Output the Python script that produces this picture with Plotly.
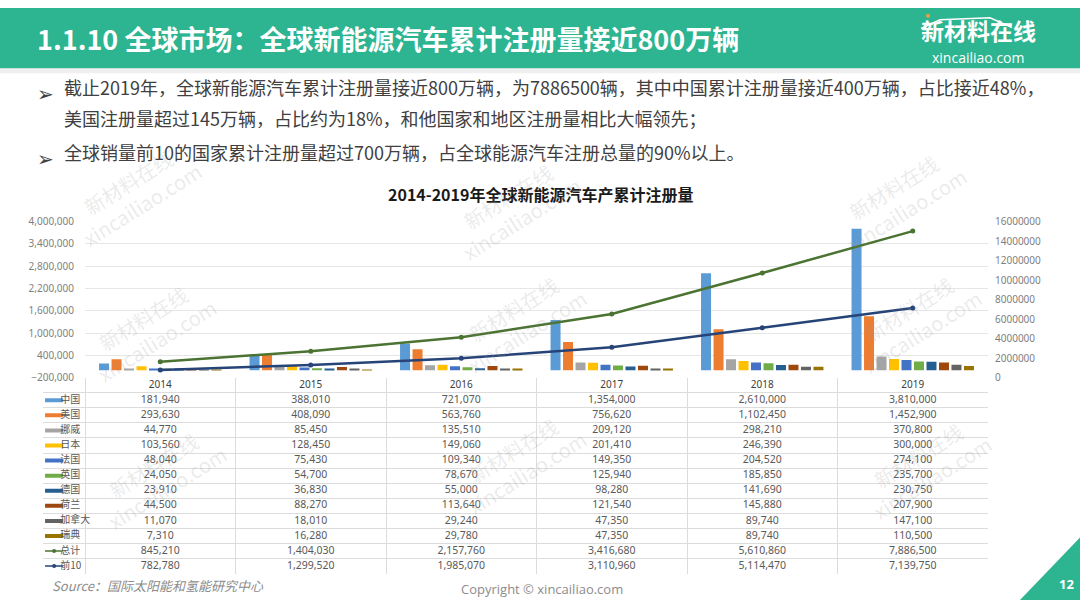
import plotly.graph_objects as go

W, H = 1080, 607

years = ["2014", "2015", "2016", "2017", "2018", "2019"]
countries = ["中国", "美国", "挪威", "日本", "法国", "英国", "德国", "荷兰", "加拿大", "瑞典"]

china = [181940, 388010, 721070, 1354000, 2610000, 3810000]
usa = [293630, 408090, 563760, 756620, 1102450, 1452900]
norway = [44770, 85450, 135510, 209120, 298210, 370800]
japan = [103560, 128450, 149060, 201410, 246390, 300000]
france = [48040, 75430, 109340, 149350, 204520, 274100]
uk = [24050, 54700, 78670, 125940, 185850, 235700]
germany = [23910, 36830, 55000, 98280, 141690, 230750]
netherlands = [44500, 88270, 113640, 121540, 145880, 207900]
canada = [11070, 18010, 29240, 47350, 89740, 147100]
sweden = [7310, 16280, 29780, 47350, 89740, 110500]
total = [845210, 1404030, 2157760, 3416680, 5610860, 7886500]
top10 = [782780, 1299520, 1985070, 3110960, 5114470, 7139750]

country_values = [china, usa, norway, japan, france, uk, germany, netherlands, canada, sweden]
bar_colors = ["#5B9BD5", "#ED7D31", "#A5A5A5", "#FFC000", "#4472C4",
              "#70AD47", "#255E91", "#9E480E", "#636363", "#997300"]
total_color = "#4B7332"
top10_color = "#264478"

title = "1.1.10 全球市场：全球新能源汽车累计注册量接近800万辆"
bullets = [
    "截止2019年，全球新能源汽车累计注册量接近800万辆，为7886500辆，其中中国累计注册量接近400万辆，占比接近48%，",
    "美国注册量超过145万辆，占比约为18%，和他国家和地区注册量相比大幅领先；",
    "全球销量前10的国家累计注册量超过700万辆，占全球能源汽车注册总量的90%以上。",
]
chart_title = "2014-2019年全球新能源汽车产累计注册量"

GREEN = "#2DB490"
FONT = "Noto Sans CJK SC, Noto Sans, sans-serif"
GRID = "#DCDCDC"


def px(x):
    return x / W


def py(y):
    return 1 - y / H


def cjk_y(y, size):
    # CJK glyph boxes sit low in plotly annotations, nudge them up a bit
    return py(y - 0.38 * size)


fig = go.Figure()

for name, vals, color in zip(countries, country_values, bar_colors):
    fig.add_trace(go.Bar(x=years, y=vals, name=name, marker=dict(color=color, line=dict(width=0))))

# the line series are stacked (前10 at the bottom, 总计 on top of it)
fig.add_trace(go.Scatter(x=years, y=top10, name="前10", yaxis="y2", stackgroup="cum", fill="none",
                         mode="lines+markers", line=dict(color=top10_color, width=2.5),
                         marker=dict(size=5, color=top10_color)))
fig.add_trace(go.Scatter(x=years, y=total, name="总计", yaxis="y2", stackgroup="cum", fill="none",
                         mode="lines+markers", line=dict(color=total_color, width=2.5),
                         marker=dict(size=5, color=total_color)))

# ---- data table under the chart, drawn on its own axes (x3/y3) ----
row_names = countries + ["总计", "前10"]
row_values = country_values + [total, top10]
rows = list(range(1, len(row_names) + 1))

# header row with the years
fig.add_trace(go.Scatter(x=[i + 0.5 for i in range(len(years))], y=[0] * len(years), text=years,
                         mode="text", textposition="middle center", xaxis="x3", yaxis="y3",
                         textfont=dict(size=10, color="#404040", family="Noto Sans")))
for i in range(len(years)):
    fig.add_trace(go.Scatter(x=[i + 0.5] * len(rows), y=rows,
                             text=[f"{vals[i]:,}" for vals in row_values],
                             mode="text", textposition="middle center", xaxis="x3", yaxis="y3",
                             textfont=dict(size=10.5, color="#595959", family="Noto Sans")))

# legend keys and row names
fig.add_trace(go.Scatter(x=[-0.205] * len(countries), y=rows[:len(countries)], mode="markers",
                         xaxis="x3", yaxis="y3",
                         marker=dict(symbol="line-ew", size=13, line=dict(width=4, color=bar_colors))))
for row, color in zip(rows[len(countries):], [total_color, top10_color]):
    fig.add_trace(go.Scatter(x=[-0.205], y=[row], mode="markers", xaxis="x3", yaxis="y3",
                             marker=dict(symbol="line-ew", size=13, line=dict(width=1.5, color=color))))
    fig.add_trace(go.Scatter(x=[-0.205], y=[row], mode="markers", xaxis="x3", yaxis="y3",
                             marker=dict(symbol="circle", size=4, color=color)))
fig.add_trace(go.Scatter(x=[-0.165] * len(rows), y=rows, text=row_names, mode="text",
                         textposition="middle right", xaxis="x3", yaxis="y3",
                         textfont=dict(size=10, color="#595959", family=FONT)))

shapes = [
    dict(type="rect", xref="paper", yref="paper", x0=0, x1=1, y0=py(62), y1=1,
         fillcolor=GREEN, line=dict(width=0), layer="below"),
    dict(type="rect", xref="paper", yref="paper", x0=0, x1=1, y0=py(67), y1=py(62),
         fillcolor="#F0F0F0", line=dict(width=0), layer="below"),
    dict(type="path", xref="paper", yref="paper",
         path=f"M {px(1020)},{py(607)} L {px(1080)},{py(607)} L {px(1080)},{py(543)} Z",
         fillcolor=GREEN, line=dict(width=0)),
    dict(type="path", xref="paper", yref="paper",
         path=f"M {px(921)},{py(21)} L {px(940)},{py(12)} L {px(990)},{py(10)} L {px(1012)},{py(20)}",
         line=dict(color="white", width=1.5)),
    dict(type="circle", xref="paper", yref="paper", x0=px(926), x1=px(930), y0=py(10), y1=py(6),
         fillcolor="#F0A040", line=dict(width=0)),
]

annotations = [
    dict(text=f"<b>{title}</b>", x=px(35), y=cjk_y(42, 27), xanchor="left", yanchor="middle",
         font=dict(size=27, color="white", family=FONT)),
    dict(text="<b>新材料在线</b>", x=px(978), y=cjk_y(31, 23), xanchor="center", yanchor="middle",
         font=dict(size=23, color="white", family=FONT)),
    dict(text="xincailiao.com", x=px(978), y=py(51), xanchor="center", yanchor="middle",
         font=dict(size=14, color="white", family="Open Sans, sans-serif")),
    dict(text=f"<b>{chart_title}</b>", x=px(540), y=cjk_y(197, 16), xanchor="center", yanchor="middle",
         font=dict(size=16, color="#1A1A1A", family=FONT)),
    dict(text="<i>Source：国际太阳能和氢能研究中心</i>", x=px(50), y=cjk_y(597, 13), xanchor="left",
         yanchor="middle", font=dict(size=13, color="#8C8C8C", family=FONT)),
    dict(text="Copyright © xincailiao.com", x=px(542), y=py(596), xanchor="center",
         yanchor="middle", font=dict(size=13, color="#8C8C8C", family="Open Sans, sans-serif")),
    dict(text="<b>12</b>", x=px(1066), y=py(591), xanchor="center", yanchor="middle",
         font=dict(size=13, color="white", family="Noto Sans")),
]

bullet_y = [88, 120, 155]
for i, (line, yy) in enumerate(zip(bullets, bullet_y)):
    if i != 1:
        annotations.append(dict(text="➢", x=px(35), y=py(yy), xanchor="left", yanchor="middle",
                                font=dict(size=20, color="#404040", family="DejaVu Sans")))
    annotations.append(dict(text=line, x=px(62), y=cjk_y(yy, 18), xanchor="left", yanchor="middle",
                            font=dict(size=18, color="#404040", family=FONT)))

# faint site watermarks
for wx, wy in [(135, 190), (515, 205), (900, 195), (150, 330), (520, 320), (915, 320),
               (160, 480), (520, 465), (925, 470)]:
    annotations.append(dict(text="新材料在线<br>xincailiao.com", x=px(wx), y=py(wy),
                            xanchor="center", yanchor="middle", textangle=-32,
                            font=dict(size=20, color="rgba(150,150,150,0.2)", family=FONT)))

for a in annotations:
    a.update(xref="paper", yref="paper", showarrow=False)

n_rows = len(rows) + 1
fig.update_layout(
    width=W,
    height=H,
    margin=dict(l=0, r=0, t=0, b=0),
    paper_bgcolor="white",
    plot_bgcolor="rgba(0,0,0,0)",
    showlegend=False,
    barmode="group",
    bargap=0.17,
    bargroupgap=0.2,
    font=dict(family=FONT),
    shapes=shapes,
    annotations=annotations,
    xaxis=dict(domain=[px(85), px(988)], type="category", showticklabels=False,
               showgrid=False, zeroline=False, showline=False),
    yaxis=dict(domain=[py(379), py(219)], range=[-200000, 4000000], tick0=-200000, dtick=600000,
               tickformat=",", showgrid=True, gridcolor="#E6E6E6", gridwidth=1, zeroline=False,
               showline=False, ticks="", ticklabelstandoff=10,
               tickfont=dict(size=10, color="#7F7F7F", family="Noto Sans")),
    yaxis2=dict(overlaying="y", side="right", anchor="x", range=[0, 16000000], dtick=2000000,
                tickformat="d", showgrid=False, zeroline=False, showline=False, ticks="",
                ticklabelstandoff=6, tickfont=dict(size=10, color="#7F7F7F", family="Noto Sans")),
    xaxis3=dict(domain=[px(43), px(988)], anchor="y3", range=[-42 / 150.5, len(years)],
                tickvals=list(range(len(years) + 1)), showticklabels=False, showgrid=True,
                gridcolor=GRID, zeroline=False, showline=False, fixedrange=True),
    yaxis3=dict(domain=[py(580), py(379)], anchor="x3", range=[n_rows - 0.5, -0.5],
                tickvals=[r - 0.5 for r in range(n_rows + 1)], showticklabels=False, showgrid=True,
                gridcolor=GRID, zeroline=False, showline=False, fixedrange=True),
)

fig.write_html("out.html", config={"displayModeBar": False},
               post_script="document.body.style.margin='0px';")
